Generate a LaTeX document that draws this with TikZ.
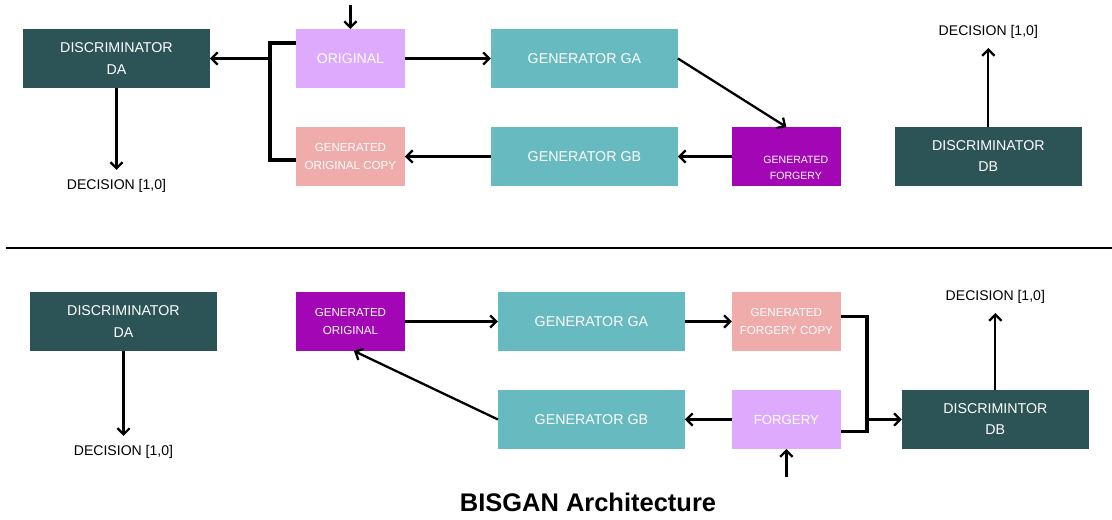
\documentclass[tikz,border=0pt]{standalone}
\usepackage{fontspec}
\setmainfont{Liberation Sans}
\usetikzlibrary{arrows.meta, positioning, calc}
\definecolor{slate}{HTML}{2C5355}
\definecolor{gencol}{HTML}{67BABF}
\definecolor{lilac}{HTML}{DDAAFE}
\definecolor{salmon}{HTML}{F0ACAA}
\definecolor{plum}{HTML}{A306B4}
% text set low and to the right inside its box
\newcommand\sunk[1]{\raisebox{-0.3cm}[0pt][0pt]{\hspace*{0.38cm}#1}}

\begin{document}
\begin{tikzpicture}[
  x=0.02cm, y=-0.02cm,
  big/.style={minimum width=3.74cm, minimum height=1.18cm, inner sep=0pt, outer sep=0pt, align=center, text=white, font=\fontsize{8.1}{12}\selectfont},
  small/.style={minimum width=2.18cm, minimum height=1.18cm, inner sep=0pt, outer sep=0pt, align=center, text=white, font=\fontsize{6.6}{10.2}\selectfont},
  decision/.style={inner sep=1pt, outer sep=4.5pt, font=\fontsize{8}{10}\selectfont},
  arr/.style={-{Straight Barb[length=3.5pt, width=7pt]}, line width=1.3pt},
  bracket/.style={line width=2pt}
]
\useasboundingbox (0,0) rectangle (1112,520);

% upper half: original -> forgery -> original copy
\node[big, fill=slate] (da) at (116.5,58.5) {DISCRIMINATOR\\DA};
\node[small, fill=lilac, right=1.72cm of da, font=\fontsize{8}{10}\selectfont] (orig) {ORIGINAL};
\node[big, fill=gencol, right=1.72cm of orig] (ga) {GENERATOR GA};
\node[small, fill=salmon, below=0.78cm of orig] (goc) {GENERATED\\ORIGINAL COPY};
\node[big, fill=gencol, below=0.78cm of ga] (gb) {GENERATOR GB};
\node[small, fill=plum, right=1.08cm of gb, font=\fontsize{6}{9.5}\selectfont] (gf) {\sunk{GENERATED}\\\sunk{FORGERY}};
\node[big, fill=slate, right=1.08cm of gf] (db) {DISCRIMINATOR\\DB};
\node[decision, below=1.64cm of da] (decA) {DECISION [1,0]};
\node[decision, above=1.58cm of db] (decB) {DECISION [1,0]};
\coordinate (srcO) at ($(orig.north)+(0,-24)$);
\coordinate (ja) at ($(orig.west)+(-26,0)$);

\draw[arr] (srcO) -- (orig.north);
\draw[arr] (orig) -- (ga);
\draw[arr] (ga.east) -- (gf.north);
\draw[arr] (gf) -- (gb);
\draw[arr] (gb) -- (goc);
\draw[bracket] ([yshift=0.31cm]orig.west) -| (ja) |- ([yshift=-0.07cm]goc.west);
\draw[arr] (ja) -- (da.east);
\draw[arr] (da) -- (decA);
\draw[arr] (db) -- (decB);

\draw[line width=1.3pt] (6,248) -- (1112,248);

% lower half: forgery -> original -> forgery copy
\node[big, fill=slate] (da2) at (123.5,321.5) {DISCRIMINATOR\\DA};
\node[small, fill=plum, right=1.58cm of da2] (go2) {GENERATED\\ORIGINAL};
\node[big, fill=gencol, right=1.86cm of go2] (ga2) {GENERATOR GA};
\node[small, fill=salmon, right=0.94cm of ga2] (gfc) {GENERATED\\FORGERY COPY};
\node[big, fill=gencol, below=0.78cm of ga2] (gb2) {GENERATOR GB};
\node[small, fill=lilac, below=0.78cm of gfc, font=\fontsize{7.5}{10}\selectfont] (fo) {FORGERY};
\node[big, fill=slate, right=1.22cm of fo] (db2) {DISCRIMINTOR\\DB};
\node[decision, below=1.7cm of da2] (decA2) {DECISION [1,0]};
\node[decision, above=1.54cm of db2] (decB2) {DECISION [1,0]};
\coordinate (srcF) at ($(fo.south)+(0,28)$);
\coordinate (jb) at ($(fo.east)+(26,0)$);

\draw[arr] (go2) -- (ga2);
\draw[arr] (ga2) -- (gfc);
\draw[arr] (fo) -- (gb2);
\draw[arr] (gb2.west) -- ([xshift=0.07cm]go2.south);
\draw[arr] (srcF) -- (fo.south);
\draw[bracket] ([yshift=0.1cm]gfc.east) -| (jb) |- ([yshift=-0.24cm]fo.east);
\draw[arr] (jb) -- (db2.west);
\draw[arr] (da2) -- (decA2);
\draw[arr] (db2) -- (decB2);

\node[font=\bfseries\fontsize{14.5}{17}\selectfont] (title) at (588,502) {BISGAN Architecture};
\end{tikzpicture}
\end{document}
